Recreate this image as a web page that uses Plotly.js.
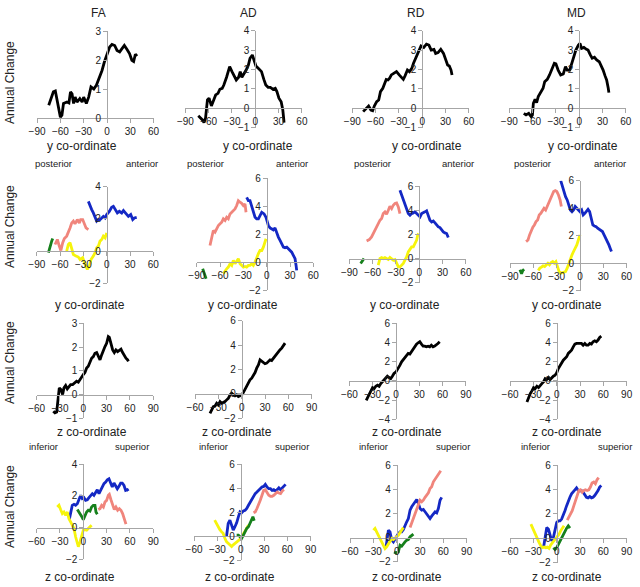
<!DOCTYPE html>
<html>
<head>
<meta charset="utf-8">
<script src="https://cdn.plot.ly/plotly-3.0.1.min.js"></script>
<style>html,body{margin:0;padding:0;background:#fff}#chart{width:640px;height:587px}</style>
</head>
<body>
<div id="chart"></div>
<script>
// column headers and tick values
const measures = ['FA', 'AD', 'RD', 'MD'];
const xTicksY = [-90, -60, -30, 0, 30, 60];
const xTicksZ = [-60, -30, 0, 30, 60, 90];

// row 1: whole tract, annual change along y  ([coordinate, change])
const faY = [[-75,0.44],[-69,0.9],[-66.5,0.93],[-62,0.26],[-60,0.03],[-58,0.1],[-56,0.5],[-51.5,0.55],[-49,0.52],[-47,0.9],[-45,0.83],[-43,0.5],[-41,0.72],[-38.6,0.55],[-35,0.67],[-32,0.55],[-30,0.72],[-26.6,0.5],[-23.6,0.72],[-20.6,1.07],[-17,1.0],[-13.7,1.13],[-9.4,1.41],[-6.4,1.64],[-3.4,1.93],[0,2.16],[3.4,2.45],[6.4,2.54],[9.9,2.5],[12.9,2.33],[16.3,2.28],[19.3,2.39],[22.3,2.5],[25.8,2.36],[29,2.22],[32,1.99],[34.3,1.95],[36.5,2.2],[38.6,2.13]];
const adY = [[-73.4,-0.39],[-68,-0.6],[-66,-0.74],[-64,-0.5],[-61.6,0.43],[-59.5,0.52],[-56.5,0.12],[-54,0.43],[-51,0.69],[-48,0.77],[-45.6,0.98],[-42.6,1.03],[-40.5,1.2],[-37,1.6],[-35,1.89],[-33,2.15],[-30,1.89],[-27,1.63],[-24.5,1.46],[-21.5,1.6],[-19.4,1.89],[-17.3,1.6],[-15.2,1.72],[-11.8,1.97],[-8.9,2.23],[-6.8,2.58],[-3.8,2.75],[-1.3,2.49],[0.8,2.18],[3.8,2.06],[5.9,1.97],[8,1.89],[11,1.49],[13.5,1.2],[16.5,1.08],[19.4,1.08],[22.8,0.98],[25.7,1.03],[27.8,0.86],[30.4,0.52],[33.3,0.34],[35.4,-0.09],[36.7,-0.6],[37,-0.74]];
const rdY = [[-76,-0.17],[-72.4,0],[-69,0.12],[-66,-0.09],[-63.8,-0.12],[-61.6,0.12],[-58.6,0.34],[-56,0.43],[-53.7,0.86],[-50.7,1.03],[-48.5,1.29],[-46.3,1.49],[-44,1.46],[-41.9,1.55],[-39.7,1.72],[-36.6,1.8],[-33.1,1.89],[-29.6,1.72],[-26.5,1.55],[-24.3,1.49],[-22.1,1.67],[-19,1.97],[-16.4,1.89],[-13.4,2.06],[-11.2,2.32],[-7.7,2.66],[-4.6,3.0],[-1.5,3.21],[2,3.14],[5.5,3.31],[8.6,3.26],[11.6,3.0],[15.1,3.04],[17.3,2.83],[20.4,2.87],[23.9,3.04],[27.4,2.83],[30.5,2.49],[32.7,2.23],[34.9,2.18],[37.1,1.97],[38.4,1.72]];
const mdY = [[-71.3,-0.26],[-68.4,-0.34],[-65,-0.26],[-61.8,-0.43],[-60.2,-0.34],[-59,0.26],[-56.8,0.46],[-54.8,0.29],[-52.7,0.6],[-49.4,0.86],[-46.5,1.03],[-44.4,1.37],[-41.1,1.49],[-38.2,1.72],[-35.3,1.97],[-32,2.32],[-30,2.29],[-27.1,1.97],[-23.8,1.72],[-20.5,1.77],[-17.6,2.15],[-15.5,1.97],[-12.2,1.97],[-10.1,2.23],[-7.2,2.63],[-4.3,3.0],[-1,3.26],[1,3.35],[3.1,3.09],[6,3.14],[9.3,3.04],[11.4,3.0],[14.3,2.75],[16.7,2.58],[19.6,2.63],[22.5,2.49],[25.8,2.4],[27.9,2.23],[30.8,1.97],[33.3,1.67],[35.3,1.46],[37.4,1.03],[38.2,0.81]];

// row 2: segments along y
const faYGreen = [[-75,-0.1],[-73,0.31],[-70.8,0.62],[-69.5,0.78]];
const faYPink = [[-66.5,0.41],[-63.5,0.72],[-61,0.31],[-59,0.04],[-56.6,0.52],[-54.5,0.78],[-51.5,0.93],[-49.4,1.13],[-47.2,1.44],[-45,1.75],[-42.9,1.86],[-40.8,1.69],[-37.8,1.96],[-35.2,1.75],[-33.5,1.96],[-30.9,1.96],[-29.2,1.75],[-26.6,1.44],[-23.6,1.34]];
const faYYellow = [[-51.5,0],[-49.4,0.41],[-47.2,0.52],[-45,0.21],[-42.9,-0.21],[-39.5,-0.31],[-36.5,-0.37],[-34.3,-0.52],[-30.9,-0.41],[-27.9,-0.82],[-24.9,-1.13],[-22.3,-0.93],[-20.2,-0.52],[-17.2,-0.31],[-15,-0.1],[-12.9,0.21],[-10.7,0.31],[-8.6,0.62],[-6.4,0.72],[-4.3,0.93],[-2.1,0.82],[0,1.13]];
const faYBlue = [[-23.6,3.09],[-21.5,2.89],[-19.3,2.58],[-17.2,2.37],[-15,2.16],[-12.9,1.86],[-10.7,1.96],[-8.6,1.96],[-6.4,2.06],[-4.3,2.16],[-2.1,2.06],[0,2.27],[3.4,2.47],[6.4,2.72],[8.6,2.78],[10.7,2.58],[13.7,2.37],[16.3,2.47],[19.3,2.37],[21.5,2.52],[24.9,2.31],[27.9,2.16],[30.9,2.27],[33.5,1.96],[35.6,2.06],[38.6,2.1]];

const adYGreen = [[-82.4,-0.48],[-80.7,-0.83],[-78,-1.19]];
const adYPink = [[-73,1.19],[-70.8,1.67],[-68.7,2.26],[-66.5,2.14],[-64.4,2.38],[-62.2,2.62],[-60,2.74],[-57.9,2.86],[-55.8,3.1],[-53.6,2.98],[-51.5,3.21],[-49.4,3.1],[-47.2,3.45],[-45,3.57],[-42.9,3.69],[-40.8,3.81],[-38.6,4.05],[-36.5,4.4],[-34.3,4.29],[-32.2,4.21],[-30,4.05],[-27.9,4.17],[-26.6,3.57]];
const adYYellow = [[-55.8,-0.83],[-53.6,-0.6],[-51.5,-0.48],[-49.4,-0.36],[-47.2,-0.12],[-45,-0.24],[-42.9,0.12],[-40.8,-0.12],[-38.6,0.12],[-36.5,0.24],[-34.3,-0.12],[-32.2,-0.24],[-30,-0.36],[-27.9,-0.31],[-25.8,-0.36],[-23.6,-0.24],[-21.5,-0.24],[-19.3,-0.12],[-17.2,-0.24],[-15,0],[-12.9,0.36],[-10.7,0.6],[-8.6,0.83],[-6.4,0.83],[-4.3,1.07],[-2.1,1.43],[-0.9,1.67]];
const adYBlue = [[-25.8,4.64],[-23.6,4.4],[-21.5,4.4],[-19.3,3.93],[-17.2,3.57],[-15,3.21],[-12.9,3.1],[-10.7,3.1],[-8.6,3.33],[-6.4,3.57],[-3.4,3.45],[-0.9,3.21],[0.9,2.86],[2.1,2.62],[4.3,2.45],[6.4,2.38],[8.6,2.31],[10.7,2.45],[12.9,2.07],[15,1.79],[17.2,1.55],[19.3,1.31],[21.5,1.07],[23.6,1.02],[25.8,1.07],[27.9,0.95],[30,0.83],[32.2,0.71],[34.3,0.48],[36.5,0.24],[37.8,-0.24],[38.6,-0.6]];

const rdYGreen = [[-75.5,-0.41],[-73,-0.14],[-71.2,0]];
const rdYPink = [[-67.8,1.46],[-64.4,1.57],[-61.4,1.79],[-59.2,2.07],[-57.1,2.34],[-54.9,2.67],[-52.8,2.95],[-50.6,3.17],[-48.5,3.31],[-46.4,3.72],[-44.2,3.86],[-42.1,3.66],[-39.9,3.99],[-37.8,4.33],[-35.6,4.13],[-33.5,4.41],[-31.3,4.55],[-29.2,4.6],[-27,4.27],[-24.9,3.72]];
const rdYYellow = [[-52.8,-0.55],[-50.6,0],[-48.5,0.08],[-46.4,0],[-44.2,0.08],[-42.1,0],[-39.9,-0.08],[-37.8,0.08],[-35.6,0],[-33.5,-0.14],[-31.3,-0.08],[-29.2,-0.41],[-27,-0.69],[-24.9,-0.69],[-22.7,-0.55],[-20.6,-0.41],[-18.5,-0.14],[-16.3,0.14],[-14.2,0.55],[-12,0.83],[-9.9,0.96],[-7.7,0.96],[-5.6,1.24],[-3.4,1.52],[-2.1,1.93],[-0.9,2.07]];
const rdYBlue = [[-24.9,5.65],[-22.7,5.23],[-20.6,4.96],[-18.5,4.55],[-16.3,4.13],[-14.2,3.72],[-12,3.58],[-9.9,3.72],[-7.7,3.77],[-5.6,3.86],[-3.4,3.72],[-1.3,3.58],[0.9,3.44],[3,3.72],[5.2,3.77],[7.3,3.86],[9.4,3.94],[11.6,3.58],[13.7,3.17],[15.9,3.03],[18,3.11],[20.2,2.95],[22.3,2.75],[24.5,2.62],[26.6,2.56],[28.8,2.34],[30.9,2.2],[33,2.12],[35.2,2.07],[37.3,1.74]];

const mdYGreen = [[-77.3,-0.48],[-75.2,-0.77],[-73.6,-0.53],[-71.9,-0.44]];
const mdYPink = [[-69.4,1.57],[-66.9,1.69],[-64.9,2.06],[-62.8,2.42],[-60.7,2.62],[-58.7,2.78],[-56.6,3.03],[-54.5,3.15],[-52.5,3.51],[-50.4,3.63],[-48.3,3.87],[-46.3,4.0],[-44.2,3.87],[-42.1,4.12],[-40.1,4.36],[-38,4.72],[-35.9,4.96],[-33.9,5.21],[-31.8,5.28],[-29.8,5.21],[-27.7,4.96],[-25.6,4.6],[-24,4.12]];
const mdYYellow = [[-53.7,-0.53],[-51.7,-0.36],[-49.6,-0.29],[-47.5,-0.19],[-45.5,-0.24],[-43.4,-0.12],[-41.3,0],[-39.3,-0.12],[-37.2,0.05],[-35.1,0.12],[-33.1,0],[-31,0.12],[-28.9,-0.24],[-26.9,-0.61],[-24.8,-0.73],[-22.7,-0.68],[-20.7,-0.61],[-18.6,-0.61],[-16.5,-0.36],[-14.5,0],[-12.4,0.36],[-10.3,0.61],[-8.3,0.85],[-6.2,1.09],[-4.1,1.33],[-2.1,1.69],[0,2.06]];
const mdYBlue = [[-24.8,6.0],[-22.7,5.57],[-20.7,5.21],[-18.6,4.84],[-16.5,4.6],[-14.5,4.24],[-12.4,3.87],[-10.3,3.75],[-8.3,3.87],[-6.2,4.12],[-4.1,4.0],[-2.1,3.87],[0,3.75],[2.1,3.87],[4.1,3.51],[6.2,3.63],[8.3,3.75],[10.3,3.92],[12.4,3.75],[14.5,3.27],[16.5,2.78],[18.6,2.71],[20.7,2.66],[22.7,2.54],[24.8,2.47],[26.9,2.37],[28.9,2.3],[31,2.06],[33.1,1.82],[35.1,1.69],[37.2,1.33],[39.3,1.02],[40.5,0.85]];

// row 3: whole tract along z
const faZ = [[-38.6,-0.7],[-36.5,-0.77],[-34.3,-0.74],[-32.2,0.14],[-30.9,0.28],[-28.8,0.21],[-26.6,0],[-24.9,0.28],[-22.7,0.38],[-20.6,0.24],[-18.5,0.32],[-16.3,0.42],[-13.7,0.42],[-10.7,0.49],[-8.6,0.56],[-6.4,0.52],[-4.3,0.63],[-2.1,0.77],[0,0.84],[2.1,0.93],[4.3,1.12],[6.4,1.19],[8.6,1.39],[10.7,1.53],[12.9,1.6],[15,1.74],[17.2,1.77],[19.3,1.6],[21.5,1.46],[23.6,1.67],[25.8,1.88],[27.9,2.02],[30,2.16],[32.2,2.44],[33.5,2.41],[35.6,2.16],[37.8,1.88],[39.9,1.77],[42,1.88],[44.2,1.81],[46.4,1.88],[48.5,1.91],[50.6,1.77],[52.8,1.63],[54.9,1.53],[57.1,1.46],[58,1.4]];
const adZ = [[-40.8,-1.59],[-38.6,-1.32],[-36.5,-1.04],[-34.3,-0.99],[-32.2,-0.77],[-30,-0.9],[-27.9,-0.63],[-25.8,-0.77],[-23.6,-0.71],[-21.5,-0.63],[-19.3,-0.49],[-17.2,-0.36],[-15,-0.08],[-12.9,0.05],[-10.7,-0.08],[-8.6,-0.16],[-6.4,-0.08],[-4.3,-0.22],[-2.1,-0.16],[0,-0.08],[2.1,0.11],[4.3,0.38],[6.4,0.6],[8.6,0.88],[10.7,1.15],[12.9,1.29],[15,1.48],[17.2,1.75],[19.3,2.11],[21.5,2.38],[23.6,2.79],[25.8,2.66],[27.9,2.52],[30,2.47],[32.2,2.52],[34.3,2.66],[36.5,2.79],[38.6,2.74],[40.8,2.93],[42.9,3.12],[45,3.29],[47.2,3.4],[49.4,3.62],[51.5,3.75],[53.6,3.95],[55.8,4.16]];
const rdZ = [[-38.3,-2.02],[-36.6,-1.74],[-34,-1.32],[-32.3,-0.91],[-30.2,-0.7],[-28.1,-0.8],[-26,-0.56],[-23.8,-0.45],[-21.7,-0.56],[-19.6,-0.28],[-17.4,-0.1],[-15.3,0.07],[-13.2,0.24],[-11.1,0.49],[-8.9,0.35],[-6.8,0.24],[-4.7,0.49],[-2.6,0.77],[0,0.94],[3,1.29],[5.1,1.64],[7.2,1.99],[9.4,2.23],[11.5,2.51],[13.6,2.68],[15.7,2.86],[17.9,2.79],[20,3.03],[22.1,3.38],[24.3,3.55],[26.4,3.83],[28.5,3.97],[30.6,4.08],[32.8,3.83],[34.9,3.62],[37,3.62],[39.1,3.55],[41.3,3.62],[43.4,3.55],[45.5,3.72],[47.7,3.55],[49.8,3.62],[51.9,3.72],[54,3.9],[56.2,4.08]];
const mdZ = [[-38.3,-2.19],[-36.2,-1.74],[-34,-1.32],[-31.9,-1.04],[-29.8,-0.7],[-27.7,-0.8],[-25.5,-0.56],[-23.4,-0.7],[-21.3,-0.45],[-19.1,-0.28],[-17,-0.1],[-14.9,0.24],[-12.8,0.14],[-10.6,0.35],[-8.5,0.14],[-6.4,0.35],[-4.3,0.49],[-2.1,0.59],[0,0.84],[2.1,1.29],[4.3,1.64],[6.4,1.81],[8.5,2.16],[10.6,2.33],[12.8,2.51],[14.9,2.86],[17,3.03],[19.1,3.2],[21.3,3.55],[23.4,3.83],[25.5,3.9],[27.7,3.9],[29.8,3.97],[31.9,3.9],[34,3.72],[36.2,3.9],[38.3,3.72],[40.4,3.72],[42.6,3.9],[44.7,3.83],[46.8,4.08],[48.9,4.18],[51.1,4.08],[53.2,4.25],[55.3,4.53],[57.4,4.67]];

// row 4: segments along z
const faZYellow = [[-33.5,1.29],[-31.3,1.4],[-29.2,1.13],[-27,0.88],[-24.9,0.98],[-22.7,0.77],[-20.6,0.98],[-18.5,0.56],[-16.3,0.35],[-14.2,0.15],[-12,-0.06],[-9.9,-0.58],[-7.7,-1.11],[-6.4,-1.21],[-4.3,-0.9],[-2.1,-0.48],[0,-0.17],[2.1,-0.13],[4.3,-0.17],[6.4,-0.06],[8.6,0.04],[10.7,0.15]];
const faZBlue = [[-18,0.5],[-16.3,0.88],[-14.2,1.4],[-12,1.46],[-9.9,1.4],[-7.7,1.5],[-5.6,1.75],[-3.4,2.03],[-1.3,1.82],[0.9,1.88],[3,1.71],[5.2,1.75],[7.3,1.88],[9.4,2.03],[11.6,2.13],[13.7,2.03],[15.9,2.23],[18,2.38],[20.2,2.13],[22.3,2.34],[24.5,2.65],[26.6,2.76],[28.8,2.86],[30.9,3.01],[33,3.07],[35.2,2.76],[37.3,2.55],[39.5,2.8],[41.6,2.59],[43.8,2.44],[45.9,2.59],[48.1,2.8],[50.2,2.8],[52.4,2.65],[54.5,2.34],[56.7,2.38],[57.9,2.3]];
const faZGreen = [[-7.7,1.13],[-5.6,0.98],[-3.4,0.84],[-1.3,0.63],[0,0.5],[2.1,0.77],[4.3,0.98],[6.4,1.09],[8.6,1.04],[10.7,1.29],[12.9,1.4],[15,1.4],[16.3,0.98],[18,0.84]];
const faZPink = [[19.3,1.13],[21.5,1.19],[23.6,1.4],[25.8,1.29],[27.9,1.61],[30,1.71],[32.2,2.03],[33.5,2.09],[35.6,1.75],[37.8,1.4],[39.9,1.13],[42,1.29],[44.2,1.09],[46.4,1.19],[48.5,1.09],[50.6,0.88],[52.8,0.46],[54.9,0.21]];

const adZYellow = [[-33.5,1.32],[-31.3,1.05],[-29.1,0.72],[-27,0.55],[-24.8,0.36],[-22.6,0.22],[-20.4,-0.19],[-18.3,-0.47],[-16.1,-0.61],[-13.9,-0.74],[-11.7,-0.88],[-9.6,-0.74],[-7.4,-0.61],[-5.2,-0.47],[-3,-0.33],[-0.9,-0.28],[1.3,-0.06],[3.5,0.22],[5.7,0.5],[7.8,0.72],[10,0.91]];
const adZBlue = [[-18.3,-0.06],[-16.1,1.05],[-13.9,1.32],[-11.7,0.91],[-9.6,0.5],[-7.4,0.77],[-5.2,1.1],[-3,1.6],[-0.9,2.01],[1.3,1.93],[3.5,2.09],[5.7,2.15],[7.8,2.29],[10,2.56],[12.2,2.84],[14.3,3.03],[16.5,3.25],[18.7,3.53],[20.9,3.66],[23,3.8],[25.2,3.86],[27.4,4.08],[29.6,4.13],[31.7,4.3],[33.9,4.08],[36.1,3.94],[38.3,3.94],[40.4,3.8],[42.6,3.86],[44.8,3.75],[47,3.86],[49.1,4.02],[51.3,3.86],[53.5,4.02],[55.7,4.21],[57.8,4.3]];
const adZGreen = [[-5.2,0.08],[-3,0.08],[-0.9,-0.06],[1.3,-0.19],[3.5,0.08],[5.7,0.36],[7.8,0.63],[10,0.77],[12.2,1.05],[14.3,1.38],[15.7,1.6],[17.4,1.27]];
const adZPink = [[16.5,1.93],[18.7,2.01],[20.9,2.29],[23,2.56],[25.2,2.98],[27.4,3.39],[29.6,3.8],[31.7,3.86],[33.9,3.66],[36.1,3.39],[38.3,3.31],[40.4,3.31],[42.6,3.39],[44.8,3.53],[47,3.66],[49.1,3.58],[51.3,3.53],[53.5,3.75],[55.7,3.86]];

const rdZYellow = [[-30,0.61],[-27.9,0.75],[-25.8,0.47],[-23.6,0.19],[-21.5,-0.08],[-19.3,-0.36],[-17.2,-0.64],[-15,-0.91],[-12.9,-0.77],[-10.7,-0.5],[-8.6,-0.22],[-6.4,-0.08],[-4.3,-0.17],[-2.1,-0.08],[0,0.06],[2.1,0.19],[4.3,0.39],[6.4,0.61],[8.6,0.83]];
const rdZBlue = [[-13.7,-0.77],[-12,0.06],[-10.7,0.61],[-8.6,0.47],[-6.4,-0.22],[-4.3,-0.36],[-2.1,-0.08],[0,0.06],[2.1,0.33],[4.3,0.47],[6.4,0.47],[8.6,0.66],[10.7,1.02],[12.9,1.3],[15,1.57],[17.2,2.27],[19.3,2.54],[21.5,2.76],[23.6,2.96],[25.8,3.15],[27.9,2.82],[30,2.4],[32.2,2.27],[34.3,2.32],[36.5,2.13],[38.6,1.93],[40.8,1.66],[42.9,1.57],[45,1.77],[47.2,1.93],[49.4,2.13],[51.5,2.04],[53.6,2.4],[55.8,3.09],[57.9,3.32]];
const rdZGreen = [[-3.4,-1.19],[-0.9,-1.27],[2.1,-1.19],[3.4,-0.91],[4.3,-0.64],[6.4,-0.72],[8.6,-0.5],[10.7,-0.36],[12.9,-0.22],[15,-0.17],[17.2,0.06],[19.3,0.19],[21.5,0.28]];
const rdZPink = [[17.2,0.83],[19.3,1.22],[21.5,1.49],[23.6,1.85],[25.8,2.27],[27.9,2.68],[30,3.09],[32.2,2.96],[34.3,3.09],[36.5,3.32],[38.6,3.51],[40.8,3.7],[42.9,4.06],[45,4.2],[47.2,4.61],[49.4,4.81],[51.5,4.97],[53.6,5.17],[55.8,5.36],[56.7,5.52]];

const mdZYellow = [[-33.2,1.16],[-31.1,0.83],[-28.9,0.47],[-26.8,0.19],[-24.7,-0.08],[-22.6,-0.36],[-20.4,-0.63],[-18.3,-0.77],[-16.2,-0.72],[-14,-0.77],[-11.9,-0.72],[-9.8,-0.83],[-7.7,-0.55],[-5.5,-0.36],[-3.4,-0.28],[-1.3,-0.08],[0.9,0.19],[3,0.33],[5.1,0.61],[7.2,0.83],[9.4,1.02]];
const mdZBlue = [[-17,-0.77],[-14.9,0.06],[-12.8,0.88],[-10.6,0.74],[-8.5,0.19],[-6.4,-0.22],[-4.3,0.06],[-2.1,0.61],[0,1.29],[2.1,1.43],[4.3,1.43],[6.4,1.57],[8.5,1.85],[10.6,2.26],[12.8,2.67],[14.9,3.09],[17,3.36],[19.1,3.64],[21.3,3.77],[23.4,3.97],[25.5,4.13],[27.7,3.91],[29.8,3.86],[31.9,3.91],[34,3.77],[36.2,3.58],[38.3,3.36],[40.4,3.31],[42.6,3.42],[44.7,3.31],[46.8,3.36],[48.9,3.5],[51.1,3.69],[53.2,3.91],[55.3,4.19],[57.4,4.32]];
const mdZGreen = [[-4.3,-0.77],[-2.1,-0.91],[0,-0.77],[2.1,-0.5],[4.3,-0.22],[6.4,0.06],[8.5,0.33],[10.6,0.61],[12.8,0.83],[14.9,1.02],[17,0.83]];
const mdZPink = [[13.6,1.49],[15.7,1.76],[17.9,2.04],[20,2.26],[22.1,2.67],[24.3,3.14],[26.4,3.64],[28.5,3.91],[30.6,3.97],[32.8,3.77],[34.9,3.91],[37,3.97],[39.1,3.91],[41.3,3.97],[43.4,4.19],[45.5,4.52],[47.7,4.6],[49.8,4.46],[51.9,4.79],[54,4.96]];

const BLACK = '#000000', GREEN = '#16801c', PINK = '#f0857c', YELLOW = '#f6f40c', BLUE = '#1428c4';

const W = 640, H = 587, PX = 0.777; // pixels per x unit
const FONT = 'Liberation Sans, Arial, sans-serif';

// x0: pixel of x=0, top/bottom: pixels of y range ends
const panels = [
  {x0: 107, top: 31, bottom: 118, xr: [-90, 60], yr: [0, 3], dy: 1, series: [[faY, BLACK]]},
  {x0: 255.3, top: 30.7, bottom: 127.7, xr: [-90, 60], yr: [-1, 4], dy: 1, series: [[adY, BLACK]]},
  {x0: 422.2, top: 30.7, bottom: 127.7, xr: [-90, 60], yr: [-1, 4], dy: 1, series: [[rdY, BLACK]]},
  {x0: 579.2, top: 30.7, bottom: 127.7, xr: [-90, 60], yr: [-1, 4], dy: 1, series: [[mdY, BLACK]]},
  {x0: 106.7, top: 186.7, bottom: 283.3, xr: [-90, 60], yr: [-2, 4], dy: 2, series: [[faYGreen, GREEN], [faYPink, PINK], [faYYellow, YELLOW], [faYBlue, BLUE]]},
  {x0: 266.7, top: 178.3, bottom: 290, xr: [-90, 60], yr: [-2, 6], dy: 2, series: [[adYGreen, GREEN], [adYPink, PINK], [adYYellow, YELLOW], [adYBlue, BLUE]]},
  {x0: 419.3, top: 186, bottom: 282.7, xr: [-90, 60], yr: [-2, 6], dy: 2, series: [[rdYGreen, GREEN], [rdYPink, PINK], [rdYYellow, YELLOW], [rdYBlue, BLUE]]},
  {x0: 580, top: 180.7, bottom: 290.7, xr: [-90, 60], yr: [-2, 6], dy: 2, series: [[mdYGreen, GREEN], [mdYPink, PINK], [mdYYellow, YELLOW], [mdYBlue, BLUE]]},
  {x0: 83.3, top: 323.3, bottom: 418.3, xr: [-60, 90], yr: [-1, 3], dy: 1, series: [[faZ, BLACK]]},
  {x0: 241.7, top: 320.7, bottom: 418.3, xr: [-60, 90], yr: [-2, 6], dy: 2, series: [[adZ, BLACK]]},
  {x0: 396, top: 323.3, bottom: 419.3, xr: [-60, 90], yr: [-4, 6], dy: 2, series: [[rdZ, BLACK]]},
  {x0: 556.7, top: 323.3, bottom: 419.3, xr: [-60, 90], yr: [-4, 6], dy: 2, series: [[mdZ, BLACK]]},
  {x0: 83.3, top: 464, bottom: 559.3, xr: [-60, 90], yr: [-2, 4], dy: 2, series: [[faZBlue, BLUE], [faZYellow, YELLOW], [faZGreen, GREEN], [faZPink, PINK]]},
  {x0: 240.7, top: 464, bottom: 560, xr: [-60, 90], yr: [-2, 6], dy: 2, series: [[adZBlue, BLUE], [adZYellow, YELLOW], [adZGreen, GREEN], [adZPink, PINK]]},
  {x0: 396.7, top: 465, bottom: 561.7, xr: [-60, 90], yr: [-2, 6], dy: 2, series: [[rdZBlue, BLUE], [rdZYellow, YELLOW], [rdZGreen, GREEN], [rdZPink, PINK]]},
  {x0: 556.7, top: 465, bottom: 562.7, xr: [-60, 90], yr: [-2, 6], dy: 2, series: [[mdZBlue, BLUE], [mdZYellow, YELLOW], [mdZGreen, GREEN], [mdZPink, PINK]]}
];

const traces = [];
const layout = {
  width: W, height: H,
  margin: {l: 0, r: 0, t: 0, b: 0},
  paper_bgcolor: '#ffffff', plot_bgcolor: 'rgba(0,0,0,0)',
  showlegend: false,
  font: {family: FONT, color: '#222'},
  annotations: []
};

panels.forEach((p, i) => {
  const n = i + 1;
  const left = p.x0 + p.xr[0] * PX, right = p.x0 + p.xr[1] * PX;
  const zeroPx = p.top + (p.yr[1] / (p.yr[1] - p.yr[0])) * (p.bottom - p.top);
  const yvals = [];
  for (let v = p.yr[0]; v <= p.yr[1]; v += p.dy) yvals.push(v);
  const axisCommon = {
    anchor: 'free', showgrid: false, zeroline: false, showline: true,
    linecolor: '#a6a6a6', linewidth: 1, ticks: 'outside', ticklen: 4,
    tickcolor: '#a6a6a6', tickfont: {family: FONT, size: 10, color: '#222'}, fixedrange: true
  };
  layout['xaxis' + n] = Object.assign({}, axisCommon, {
    domain: [left / W, right / W], range: p.xr, position: 1 - zeroPx / H,
    tickvals: p.xr[0] === -90 ? xTicksY : xTicksZ
  });
  layout['yaxis' + n] = Object.assign({}, axisCommon, {
    domain: [1 - p.bottom / H, 1 - p.top / H], range: p.yr, position: p.x0 / W,
    tickvals: yvals
  });
  p.series.forEach(([pts, color]) => {
    traces.push({
      x: pts.map(d => d[0]), y: pts.map(d => d[1]),
      xaxis: 'x' + n, yaxis: 'y' + n, type: 'scatter', mode: 'lines',
      line: {color: color, width: 2.8}, hoverinfo: 'skip'
    });
  });
});

function label(text, x, y, size, angle) {
  layout.annotations.push({
    text: text, xref: 'paper', yref: 'paper', x: x / W, y: 1 - y / H,
    xanchor: 'center', yanchor: 'middle', showarrow: false, textangle: angle || 0,
    font: {family: FONT, size: size, color: '#222'}
  });
}

// column titles
[98, 248, 416, 576].forEach((x, i) => label(measures[i], x, 13, 12));
// y labels
[83, 227, 363, 507].forEach(y => label('Annual Change', 10, y, 12, -90));
// x axis titles
[82, 258, 427, 583].forEach(x => label('y co-ordinate', x, 146, 12));
[90, 243, 405, 567].forEach(x => label('y co-ordinate', x, 305, 12));
[92, 237, 407, 567].forEach(x => label('z co-ordinate', x, 432, 12));
[80, 240, 407, 567].forEach(x => label('z co-ordinate', x, 577, 12));
// direction labels
[[53, 142], [205, 292], [372, 458], [532, 610]].forEach(([a, b]) => {
  label('posterior', a, 163, 9.5); label('anterior', b, 163, 9.5);
});
[[43, 132], [213, 292], [373, 453], [535, 615]].forEach(([a, b]) => {
  label('inferior', a, 446, 9.5); label('superior', b, 446, 9.5);
});

Plotly.newPlot('chart', traces, layout, {displayModeBar: false, staticPlot: true});
</script>
</body>
</html>
